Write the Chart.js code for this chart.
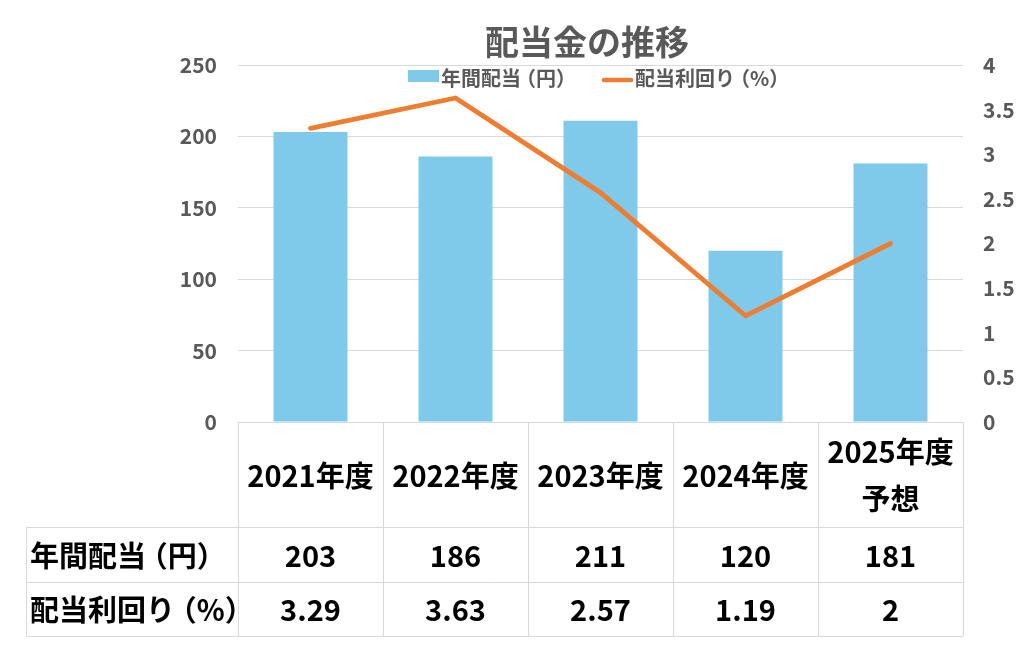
<!DOCTYPE html>
<html><head><meta charset="utf-8">
<script src="https://cdn.jsdelivr.net/npm/chart.js@4.4.0/dist/chart.umd.min.js"></script>
<style>html,body{margin:0;padding:0;background:#fff}canvas{display:block}</style>
</head><body>
<canvas id="c" width="1024" height="645"></canvas>
<script>
const chartTitle = '配当金の推移';
const categories = ['2021年度', '2022年度', '2023年度', '2024年度', ['2025年度', '予想']];
const seriesNames = ['年間配当（円）', '配当利回り（%）'];
const dividends = [203, 186, 211, 120, 181];
const yields = [3.29, 3.63, 2.57, 1.19, 2];
const leftAxis = { min: 0, max: 250, step: 50 };
const rightAxis = { min: 0, max: 4, step: 0.5 };

const FONT = '"Noto Sans CJK JP", "Noto Sans", sans-serif';
const BAR_COLOR = '#7FC9EA';
const LINE_COLOR = '#ED7D31';
const AXIS_TEXT = '#595959';
const GRID = '#d9d9d9';

// draw text with slightly tightened CJK brackets, in runs
const SQUEEZE = 0.25;
function paltRuns(ctx, text) {
  const runs = [];
  let x = 0, buf = '';
  const flush = () => { if (buf) { runs.push([buf, x]); x += ctx.measureText(buf).width; buf = ''; } };
  for (const ch of text) {
    if (ch === '（') { flush(); const w = ctx.measureText(ch).width; runs.push([ch, x - w * SQUEEZE]); x += w * (1 - SQUEEZE); }
    else if (ch === '）') { flush(); const w = ctx.measureText(ch).width; runs.push([ch, x]); x += w * (1 - SQUEEZE); }
    else buf += ch;
  }
  flush();
  return { runs, width: x };
}
function drawPalt(ctx, text, x, y, align) {
  const { runs, width } = paltRuns(ctx, text);
  let x0 = x;
  if (align === 'center') x0 = x - width / 2;
  else if (align === 'right') x0 = x - width;
  ctx.textAlign = 'left';
  for (const [s, dx] of runs) ctx.fillText(s, x0 + dx, y);
}

const headerPlugin = {
  id: 'headerPlugin',
  afterDraw(chart) {
    const ctx = chart.ctx;
    ctx.save();
    ctx.fillStyle = AXIS_TEXT;
    ctx.textBaseline = 'middle';
    ctx.font = 'bold 34px ' + FONT;
    ctx.textAlign = 'center';
    ctx.fillText(chartTitle, 587, 42);
    // legend
    ctx.font = 'bold 20px ' + FONT;
    ctx.fillStyle = BAR_COLOR;
    ctx.fillRect(408, 70, 31, 12);
    ctx.fillStyle = AXIS_TEXT;
    drawPalt(ctx, seriesNames[0], 441, 78, 'left');
    ctx.strokeStyle = LINE_COLOR;
    ctx.lineWidth = 4.5;
    ctx.lineCap = 'round';
    ctx.beginPath(); ctx.moveTo(604, 80); ctx.lineTo(631, 80); ctx.stroke();
    drawPalt(ctx, seriesNames[1], 635, 78, 'left');
    ctx.restore();
  }
};

const tablePlugin = {
  id: 'dataTable',
  afterDraw(chart) {
    const ctx = chart.ctx;
    const { left, right, bottom } = chart.chartArea;
    const xs = chart.scales.x;
    const n = categories.length;
    const colW = (right - left) / n;
    const tableLeft = 26;
    const yTop = bottom, yHead = bottom + 105, yRow1 = bottom + 160, yRow2 = bottom + 214;
    ctx.save();
    ctx.strokeStyle = GRID;
    ctx.lineWidth = 1;
    const h = (x1, x2, y) => { ctx.beginPath(); ctx.moveTo(x1, Math.round(y) + 0.5); ctx.lineTo(x2, Math.round(y) + 0.5); ctx.stroke(); };
    const v = (x, y1, y2) => { ctx.beginPath(); ctx.moveTo(Math.round(x) + 0.5, y1); ctx.lineTo(Math.round(x) + 0.5, y2); ctx.stroke(); };
    h(left, right, yTop);
    h(tableLeft, right, yHead);
    h(tableLeft, right, yRow1);
    h(tableLeft, right, yRow2);
    v(tableLeft, yHead, yRow2);
    for (let i = 0; i <= n; i++) v(left + i * colW, yTop, yRow2);

    ctx.fillStyle = '#000';
    ctx.textBaseline = 'middle';
    ctx.font = 'bold 29px ' + FONT;
    for (let i = 0; i < n; i++) {
      const cx = xs.getPixelForValue(i);
      const lab = categories[i];
      const lines = Array.isArray(lab) ? lab : [lab];
      const mid = (yTop + yHead) / 2 + 1;
      const lh = 47;
      lines.forEach((t, k) => {
        drawPalt(ctx, t, cx, mid + (k - (lines.length - 1) / 2) * lh, 'center');
      });
      drawPalt(ctx, String(dividends[i]), cx, (yHead + yRow1) / 2 + 1, 'center');
      drawPalt(ctx, String(yields[i]), cx, (yRow1 + yRow2) / 2 + 1, 'center');
    }
    drawPalt(ctx, seriesNames[0], 30, (yHead + yRow1) / 2 + 1, 'left');
    drawPalt(ctx, seriesNames[1], 30, (yRow1 + yRow2) / 2 + 1, 'left');
    ctx.restore();
  }
};

new Chart(document.getElementById('c'), {
  data: {
    labels: categories,
    datasets: [
      {
        type: 'line', label: seriesNames[1], data: yields, yAxisID: 'y1', order: 0,
        borderColor: LINE_COLOR, backgroundColor: LINE_COLOR, borderWidth: 4.8,
        borderCapStyle: 'round', borderJoinStyle: 'round', pointRadius: 0, pointHoverRadius: 0,
        tension: 0, fill: false
      },
      {
        type: 'bar', label: seriesNames[0], data: dividends, yAxisID: 'y', order: 1,
        backgroundColor: BAR_COLOR, borderWidth: 0,
        categoryPercentage: 1.0, barPercentage: 0.51
      }
    ]
  },
  options: {
    responsive: false,
    animation: false,
    devicePixelRatio: 1,
    layout: { padding: { top: 65, bottom: 223, left: 0, right: 0 } },
    plugins: { legend: { display: false }, title: { display: false }, tooltip: { enabled: false } },
    scales: {
      x: { type: 'category', display: false, offset: true },
      y: {
        position: 'left', min: leftAxis.min, max: leftAxis.max,
        ticks: { stepSize: leftAxis.step, color: AXIS_TEXT, font: { family: FONT, size: 21, weight: 'bold' }, padding: 21 },
        grid: { color: GRID, drawTicks: false, tickLength: 0, lineWidth: 1 },
        border: { display: false },
        afterFit(s) { s.width = 238; }
      },
      y1: {
        position: 'right', min: rightAxis.min, max: rightAxis.max,
        ticks: {
          stepSize: rightAxis.step, color: AXIS_TEXT, font: { family: FONT, size: 21, weight: 'bold' }, padding: 20,
          callback: (val) => String(Math.round(val * 10) / 10)
        },
        grid: { display: false, drawTicks: false, tickLength: 0 },
        border: { display: false },
        afterFit(s) { s.width = 61; }
      }
    }
  },
  plugins: [headerPlugin, tablePlugin]
});
</script>
</body></html>
